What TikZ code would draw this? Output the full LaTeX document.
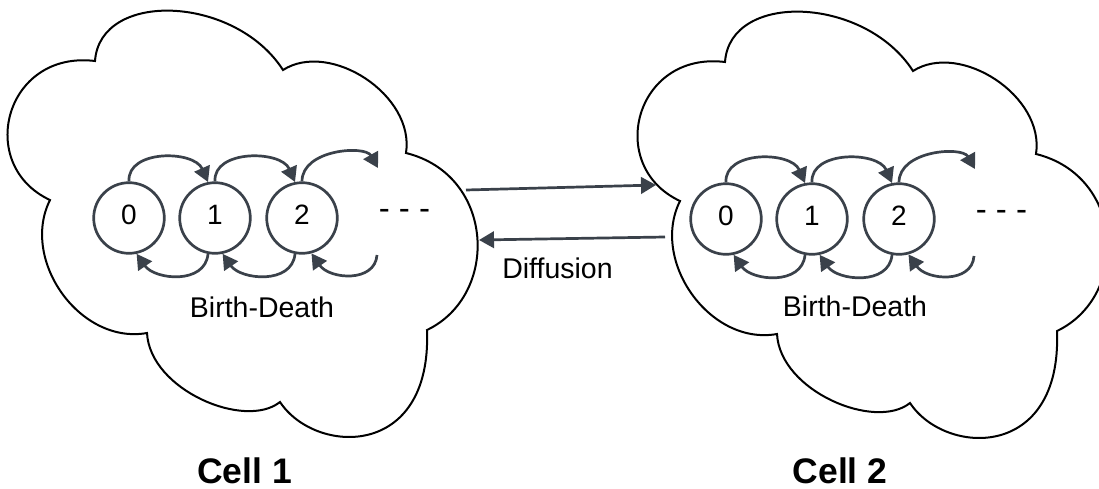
\documentclass[tikz,border=0pt]{standalone}
\usepackage{fontspec}
\setmainfont{Liberation Sans}
\usetikzlibrary{arrows.meta,calc}
\definecolor{ink}{HTML}{3A414A}
\begin{document}
\begin{tikzpicture}[x=1pt,y=-1pt,
  cloudline/.style={draw=black,line width=2pt,line join=miter},
  state/.style={circle,draw=ink,line width=2.7pt,minimum size=70.6pt,inner sep=0pt,
    text depth=6pt,font=\fontsize{28}{32}\selectfont},
  flow/.style={draw=ink,line width=2.7pt,-{Triangle[length=15pt,width=16.5pt]}},
  lbl/.style={font=\fontsize{28.5}{32}\selectfont,anchor=base,inner sep=0pt},
  title/.style={font=\fontsize{35.5}{40}\selectfont\bfseries,anchor=base,inner sep=0pt},
  dots/.style={font=\fontsize{33}{38}\selectfont,anchor=base,inner sep=0pt},
  cloudpic/.pic={
    \path[cloudline] (283,70)
      .. controls (235,-5) and (100,-10) .. (95,61)
      .. controls (5,50) and (-25,165) .. (50,200)
      .. controls (20,260) and (80,345) .. (147,333)
      .. controls (150,390) and (245,430) .. (280,402)
      .. controls (315,455) and (432,460) .. (427,330)
      .. controls (500,295) and (495,175) .. (406,153)
      .. controls (415,95) and (330,40) .. (283,70) -- cycle;
  }]
\useasboundingbox (0,0) rectangle (1099,489);

% the two cells
\pic at (0,0) {cloudpic};
\begin{scope}[shift={(630,1)},xscale=0.98]
  \pic at (0,0) {cloudpic};
\end{scope}

% birth-death chains inside each cell
\foreach \s/\dx/\dy in {L/0/0, R/597/1} {
  \node[state] (\s0) at (129+\dx,218+\dy) {0};
  \node[state] (\s1) at (215+\dx,218+\dy) {1};
  \node[state] (\s2) at (302+\dx,218+\dy) {2};
  \node[dots] (\s dots) at (404.5+\dx,219.5+\dy) {- - -};
  \coordinate (\s up) at (378+\dx,168+\dy);
  \coordinate (\s dn) at (377+\dx,255+\dy);
  % births
  \draw[flow] (\s0.north) .. controls ($(\s0.north)+(-2,-32)$) and ($(\s1.101)+(-14,-32)$) .. (\s1.101);
  \draw[flow] (\s1.north) .. controls ($(\s1.north)+(-2,-32)$) and ($(\s2.101)+(-14,-32)$) .. (\s2.101);
  \draw[flow] (\s2.north) .. controls ($(\s2.north)+(0,-32)$) and ($(\s up)+(-13,-23)$) .. (\s up);
  % deaths
  \draw[flow] (\s1.259) .. controls ($(\s1.259)+(-3,31)$) and ($(\s0.282)+(18,26)$) .. (\s0.282);
  \draw[flow] (\s2.259) .. controls ($(\s2.259)+(-3,31)$) and ($(\s1.282)+(18,26)$) .. (\s1.282);
  \draw[flow] (\s dn) .. controls ($(\s dn)+(-2,28)$) and ($(\s2.285)+(18,26)$) .. (\s2.285);
}

\node[lbl] (bdL) at (262,317) {Birth-Death};
\node[lbl] (bdR) at (855,316) {Birth-Death};

% diffusion between the cells
\coordinate (outL) at (466,190);
\coordinate (inR) at (656,185);
\coordinate (outR) at (665,237);
\coordinate (inL) at (479,240);
\draw[flow] (outL) -- (inR);
\draw[flow] (outR) -- (inL);
\node[lbl] (diff) at (557.5,278) {Diffusion};

\node[title] (cell1) at (244.5,483) {Cell 1};
\node[title] (cell2) at (840,483) {Cell 2};
\end{tikzpicture}
\end{document}
